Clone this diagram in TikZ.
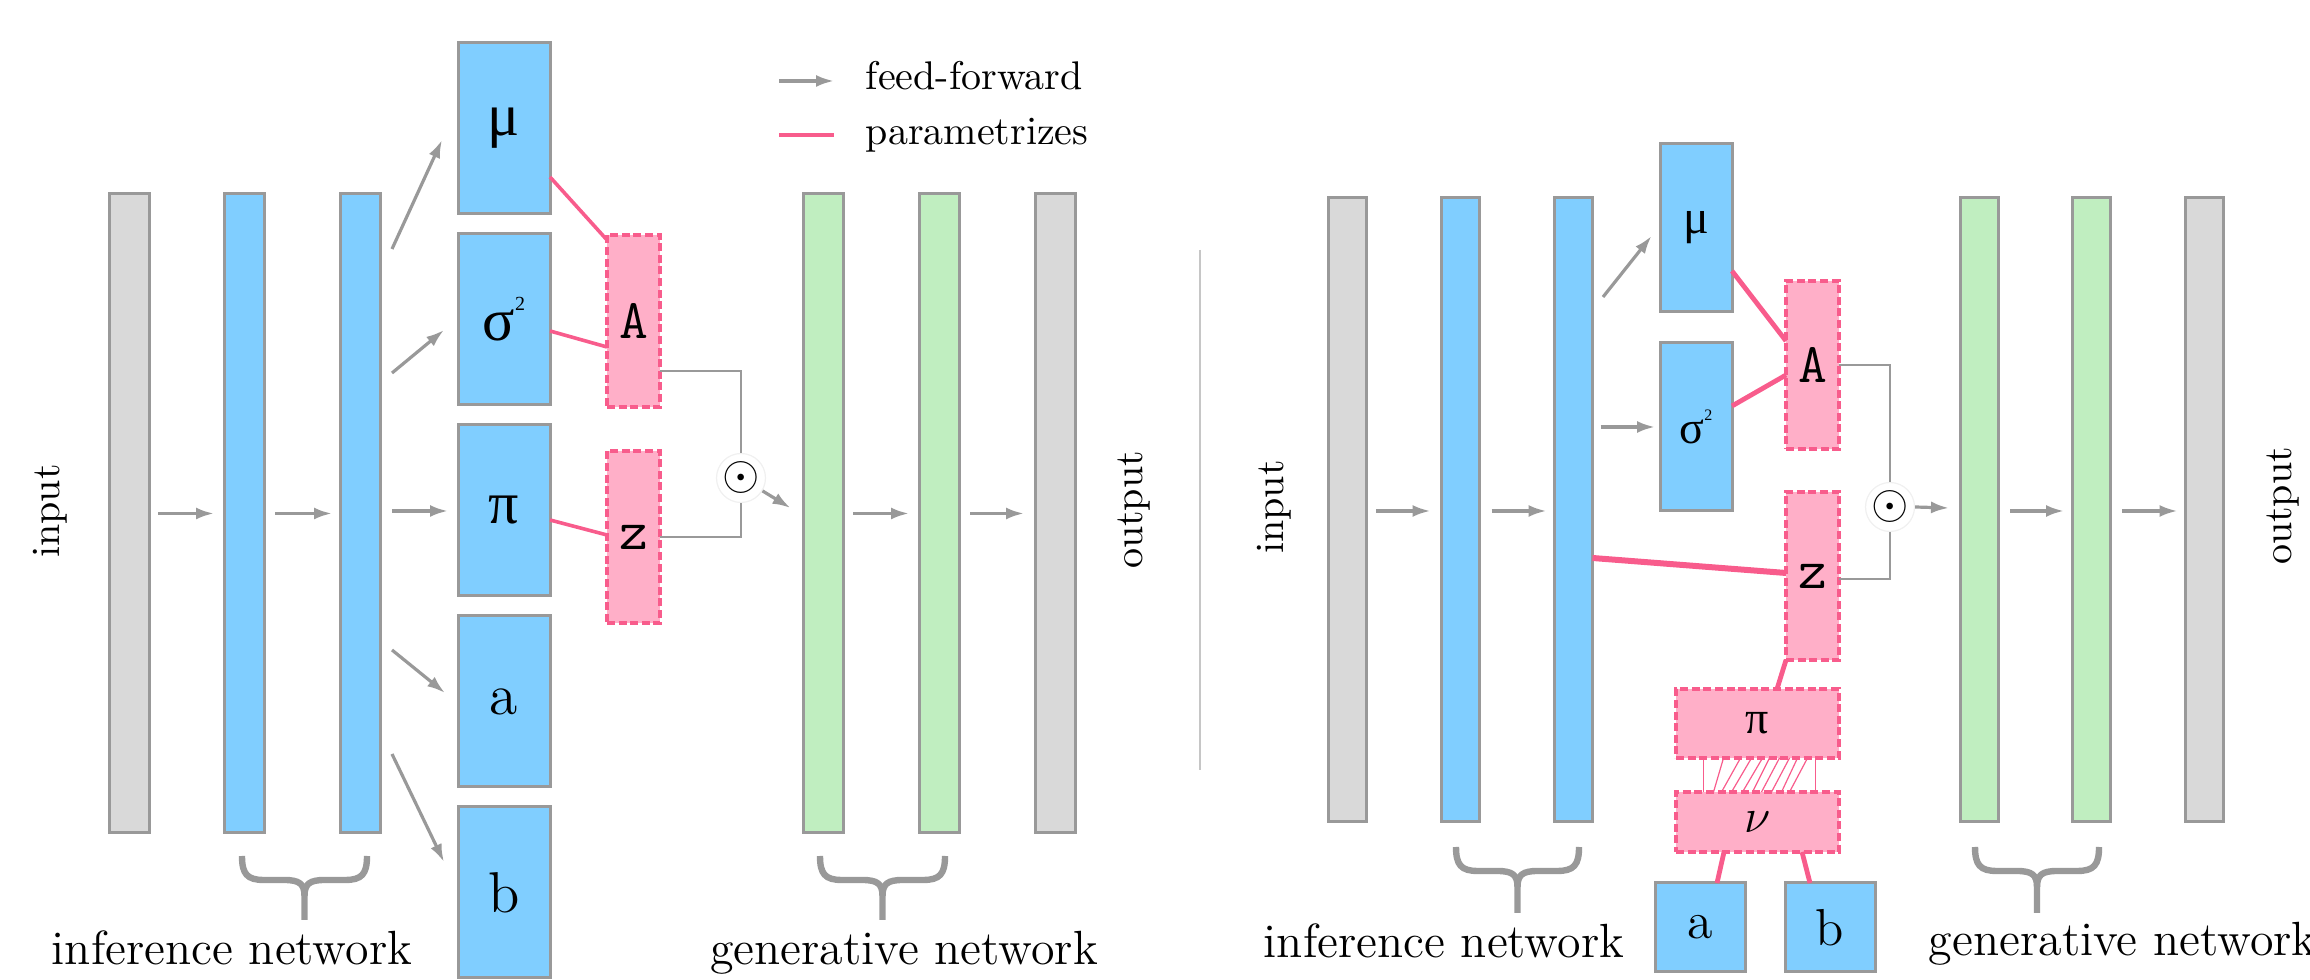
\documentclass[tikz,border=0pt]{standalone}
\usepackage{fontspec}
\newfontfamily\grk{Liberation Serif}
\usetikzlibrary{arrows.meta,calc}
\definecolor{barblue}{RGB}{128,206,255}
\definecolor{bargray}{RGB}{217,217,217}
\definecolor{bargreen}{RGB}{192,238,192}
\definecolor{pinkfill}{RGB}{255,175,200}
\definecolor{pinkline}{RGB}{248,92,140}
\definecolor{edgegray}{RGB}{153,153,153}
\newcommand\netbrace[4]{%
  \draw[bracestyle] (#1,#3) .. controls (#1,#3+18) and (#1+5,#3+24) .. (#1+22,#3+24)
    -- ({(#1+#2)/2-20},#3+24) .. controls ({(#1+#2)/2-5},#3+24) and ({(#1+#2)/2},#3+28) .. ({(#1+#2)/2},#3+40)
    -- ({(#1+#2)/2},#4);
  \draw[bracestyle] (#2,#3) .. controls (#2,#3+18) and (#2-5,#3+24) .. (#2-22,#3+24)
    -- ({(#1+#2)/2+20},#3+24) .. controls ({(#1+#2)/2+5},#3+24) and ({(#1+#2)/2},#3+28) .. ({(#1+#2)/2},#3+40);
}
\newcommand\sigsq[1]{σ\raisebox{0.5em}{\fontsize{#1}{#1}\selectfont 2}}
\begin{document}
\begin{tikzpicture}[x=0.25pt,y=-0.25pt,
  layer/.style={rectangle, draw=edgegray, line width=0.75pt, inner sep=0pt, outer sep=0pt},
  barL/.style={layer, minimum width=10pt, minimum height=159.75pt},
  barR/.style={layer, minimum width=9.5pt, minimum height=156pt},
  parL/.style={layer, fill=barblue, minimum width=23pt, minimum height=42.75pt},
  parR/.style={layer, fill=barblue, minimum width=18pt, minimum height=42pt},
  latentbox/.style={rectangle, fill=pinkfill, draw=pinkline, line width=0.8pt, dash pattern=on 2pt off 0.9pt, inner sep=0pt, outer sep=0pt},
  latL/.style={latentbox, minimum width=13.25pt, minimum height=43pt},
  latR/.style={latentbox, minimum width=13.25pt, minimum height=42pt},
  ff/.style={draw=edgegray, line width=0.8pt, -{Latex[length=4.5pt,width=3pt]}},
  pline/.style={draw=pinkline, line width=0.9pt},
  plineR/.style={draw=pinkline, line width=1.2pt},
  gline/.style={draw=edgegray, line width=0.7pt},
  bracestyle/.style={draw=edgegray, line width=1.6pt},
  odotnode/.style={circle, fill=white, draw=gray!12, line width=0.3pt, minimum size=11.5pt, inner sep=0pt},
  bigG/.style={font=\grk\fontsize{15}{15}\selectfont},
  smallG/.style={font=\grk\fontsize{12}{12}\selectfont},
  ttlab/.style={font=\ttfamily\fontsize{14}{14}\selectfont},
]
\useasboundingbox (0,0) rectangle (2310,980);

% ---------------- left panel ----------------
\node[barL, fill=bargray]  (inL)  at (129,513.5) {};
\node[barL, fill=barblue]  (h1L)  at (244,513.5) {};
\node[barL, fill=barblue]  (h2L)  at (360,513.5) {};
\node[barL, fill=bargreen] (g1L)  at (823,513.5) {};
\node[barL, fill=bargreen] (g2L)  at (939,513.5) {};
\node[barL, fill=bargray]  (outL) at (1055,513.5) {};

\node[parL, bigG] (muL)  at (504,128.5) {μ};
\node[parL, bigG] (sigL) at (504,319.5) {\sigsq{5}};
\node[parL, bigG] (piL)  at (504,510.5) {π};
\node[parL, font=\fontsize{14.4}{14.4}\selectfont] (aL) at (504,701.5) {a};
\node[parL, font=\fontsize{14.4}{14.4}\selectfont] (bL) at (504,892.5) {b};

\node[latL, ttlab] (AL) at (633.5,321) {A};
\node[latL, ttlab] (zL) at (633.5,537) {z};
\node[odotnode] (odotL) at (741,478) {\fontsize{12}{12}\selectfont$\odot$};

\draw[ff] ($(inL.east)+(9,0)$) -- ($(h1L.west)+(-10,0)$);
\draw[ff] ($(h1L.east)+(11,0)$) -- ($(h2L.west)+(-8,0)$);
\draw[ff] ($(g1L.east)+(10,0)$) -- ($(g2L.west)+(-10,0)$);
\draw[ff] ($(g2L.east)+(11,0)$) -- ($(outL.west)+(-11,0)$);

\draw[ff] ($(h2L.east)+(12,-264.5)$) -- ($(muL.west)+(-16,11.5)$);
\draw[ff] ($(h2L.east)+(12,-140.5)$) -- ($(sigL.west)+(-14,10.5)$);
\draw[ff] ($(h2L.east)+(12,-2.5)$) -- ($(piL.west)+(-10,0.5)$);
\draw[ff] ($(h2L.east)+(12,136.5)$) -- ($(aL.west)+(-13,-8.5)$);
\draw[ff] ($(h2L.east)+(12,240.5)$) -- ($(bL.west)+(-14,-30.5)$);

\draw[pline] ($(muL.east)+(0,48.5)$) -- ($(AL.north west)+(0,5)$);
\draw[pline] ($(sigL.east)+(0,11.5)$) -- ($(AL.west)+(0,26)$);
\draw[pline] ($(piL.east)+(0,9.5)$) -- ($(zL.west)+(0,-2)$);

\draw[gline] ($(AL.east)+(0,50)$) -| (odotL.north);
\draw[gline] (zL.east) -| (odotL.south);
\draw[ff] (odotL.-31) -- ($(g1L.west)+(-12.5,-5.5)$);

\node[rotate=90] (inLabL)  at (50,511) {input};
\node[rotate=90] (outLabL) at (1134,510) {output};
\netbrace{242}{367}{856}{920}
\netbrace{820}{945}{856}{920}
\node[anchor=base, font=\large] (infL) at (232,965) {inference network};
\node[anchor=base, font=\large] (genL) at (904,965) {generative network};

% legend
\coordinate (legA1) at (779,81);
\coordinate (legA2) at (834,81);
\coordinate (legP1) at (779,135);
\coordinate (legP2) at (834,135);
\draw[ff] (legA1) -- (legA2);
\draw[pline, line width=1pt] (legP1) -- (legP2);
\node[anchor=base west, inner sep=0pt] (legT1) at (865,90) {feed-forward};
\node[anchor=base west, inner sep=0pt] (legT2) at (865,144.5) {parametrizes};

% divider
\coordinate (divT) at (1200,250);
\coordinate (divB) at (1200,770);
\draw[gray!45, line width=0.35pt] (divT) -- (divB);

% ---------------- right panel ----------------
\node[barR, fill=bargray]  (inR)  at (1347,510) {};
\node[barR, fill=barblue]  (h1R)  at (1460.5,510) {};
\node[barR, fill=barblue]  (h2R)  at (1573.5,510) {};
\node[barR, fill=bargreen] (g1R)  at (1979,510) {};
\node[barR, fill=bargreen] (g2R)  at (2091,510) {};
\node[barR, fill=bargray]  (outR) at (2204.5,510) {};

\node[parR, smallG] (muR)  at (1696,228) {μ};
\node[parR, font=\grk\fontsize{11.5}{11.5}\selectfont] (sigR) at (1696,427) {\sigsq{4}};
\node[latR, ttlab] (AR) at (1812.5,365) {A};
\node[latR, ttlab] (zR) at (1812.5,576) {z};
\node[odotnode] (odotR) at (1890,507) {\fontsize{12}{12}\selectfont$\odot$};

\node[latentbox, minimum width=40.75pt, minimum height=17.25pt, font=\grk\fontsize{11.5}{11.5}\selectfont] (piR) at (1757.5,723.5) {π};
\node[latentbox, minimum width=40.75pt, minimum height=15pt, font=\fontsize{11.5}{11.5}\selectfont] (nuR) at (1757.5,822) {$\nu$};
\node[layer, fill=barblue, minimum width=22.5pt, minimum height=22.25pt, font=\fontsize{13}{13}\selectfont] (aR) at (1700,927.5) {a};
\node[layer, fill=barblue, minimum width=22.5pt, minimum height=22.25pt, font=\fontsize{13}{13}\selectfont] (bR) at (1830,927.5) {b};

\draw[ff] ($(inR.east)+(10,1)$) -- ($(h1R.west)+(-11,1)$);
\draw[ff] ($(h1R.east)+(12,1)$) -- ($(h2R.west)+(-8,1)$);
\draw[ff] ($(g1R.east)+(12,1)$) -- ($(g2R.west)+(-8,1)$);
\draw[ff] ($(g2R.east)+(12,1)$) -- ($(outR.west)+(-8,1)$);

\draw[ff] ($(h2R.east)+(10.5,-213)$) -- ($(muR.west)+(-8.5,8)$);
\draw[ff] ($(h2R.east)+(8,-83)$) -- ($(sigR.west)+(-5,0)$);

\draw[plineR] ($(muR.east)+(0,43)$) -- ($(AR.west)+(0,-24)$);
\draw[plineR] ($(sigR.east)+(0,-21)$) -- ($(AR.west)+(0,10)$);
\draw[plineR, line width=1.5pt] ($(h2R.east)+(0,48)$) -- ($(zR.west)+(0,-3)$);
\draw[plineR] (zR.south west) -- ($(piR.north)+(19.5,0)$);
\draw[plineR] ($(nuR.south)+(-33.5,0)$) -- ($(aR.north)+(17,0)$);
\draw[plineR] ($(nuR.south)+(44.5,0)$) -- ($(bR.north)+(-20,0)$);

\foreach \xb/\xt in {-54/-54,-44/-34,-36/-17,-26/-6,-15/5,-5/12,4/22,14/32,24/40,32/50,58/58}
  \draw[pinkline, line width=0.3pt] ($(nuR.north)+(\xb,0)$) -- ($(piR.south)+(\xt,0)$);

\draw[gline] (AR.east) -| (odotR.north);
\draw[gline] ($(zR.east)+(0,3)$) -| (odotR.south);
\draw[ff] (odotR.east) -- ($(g1R.west)+(-11,-2)$);

\node[rotate=90] (inLabR)  at (1274,507) {input};
\node[rotate=90] (outLabR) at (2283,506) {output};
\netbrace{1456}{1579}{847}{913}
\netbrace{1975}{2099}{847}{913}
\node[anchor=base, font=\large] (infR) at (1444,958) {inference network};
\node[anchor=base west, font=\large, inner sep=0pt] (genR) at (1928,956) {generative network};
\end{tikzpicture}
\end{document}
